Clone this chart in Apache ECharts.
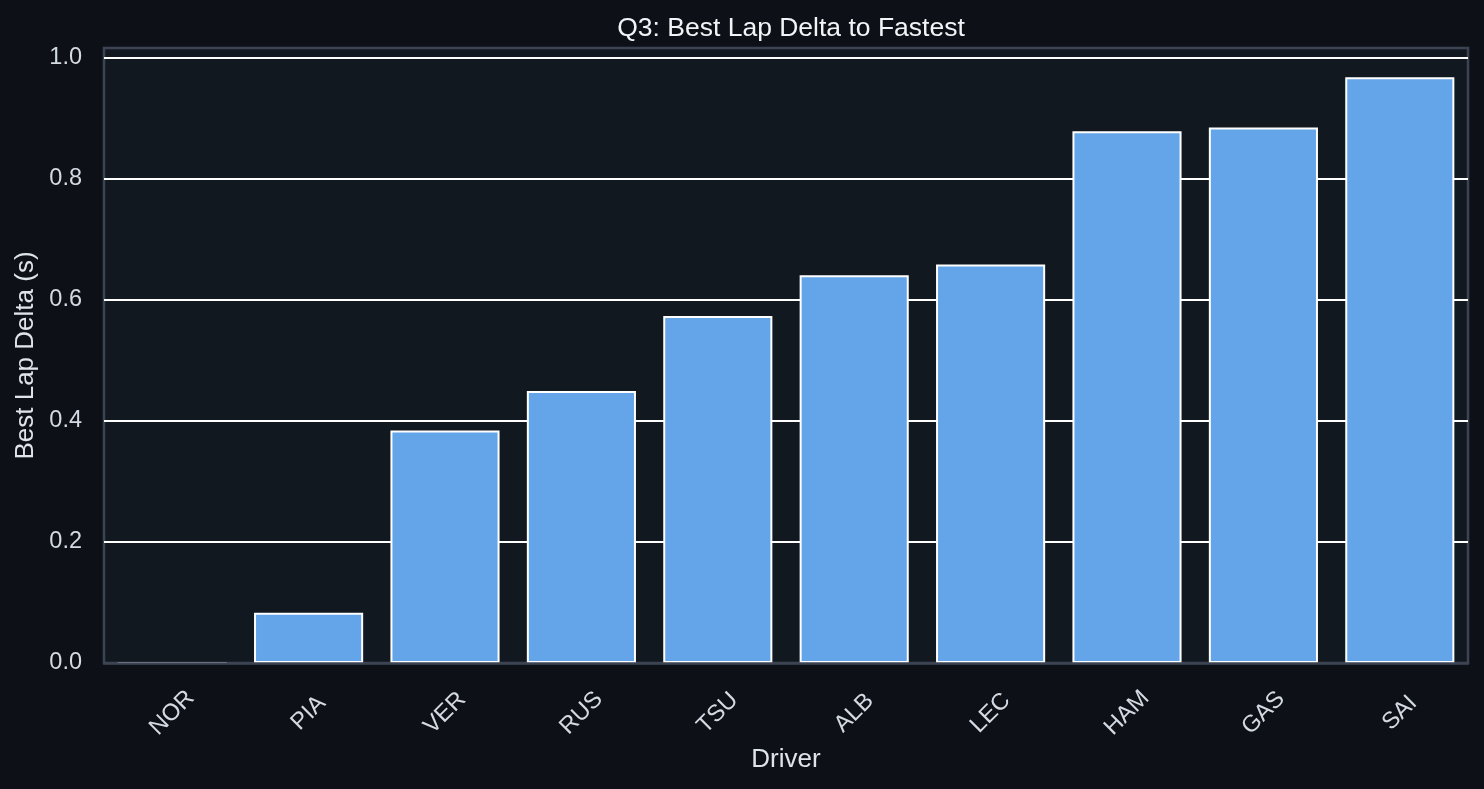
<!DOCTYPE html>
<html>
<head>
<meta charset="utf-8">
<script src="https://cdn.jsdelivr.net/npm/echarts@6/dist/echarts.min.js"></script>
<style>
  html, body { margin: 0; padding: 0; background: #0d1017; }
  #chart { width: 1484px; height: 789px; }
</style>
</head>
<body>
<div id="chart"></div>
<script>
const drivers = ['NOR', 'PIA', 'VER', 'RUS', 'TSU', 'ALB', 'LEC', 'HAM', 'GAS', 'SAI'];
const deltas = [0.0, 0.083, 0.384, 0.449, 0.573, 0.640, 0.658, 0.878, 0.884, 0.967];
const yTicks = [0.0, 0.2, 0.4, 0.6, 0.8, 1.0];

const yMax = Math.max(...deltas) * 1.05;
const chart = echarts.init(document.getElementById('chart'));
const font = 'Liberation Sans, Arial, sans-serif';
const frameColor = '#3c4453';

// split-line colours: hide the one at 0 (under the frame) and the one at the axis max
const splitColors = yTicks.map(t => (t === 0 ? 'rgba(0,0,0,0)' : '#ffffff')).concat(['rgba(0,0,0,0)']);

chart.setOption({
  backgroundColor: '#0d1017',
  animation: false,
  title: {
    text: 'Q3: Best Lap Delta to Fastest',
    left: 786,
    textAlign: 'center',
    top: 10,
    textStyle: { color: '#f2f4f7', fontSize: 26.5, fontWeight: 'normal', fontFamily: font }
  },
  grid: {
    left: 104, right: 16, top: 48, bottom: 126,
    show: true,
    backgroundColor: '#121820',
    borderColor: frameColor,
    borderWidth: 2.5
  },
  xAxis: {
    type: 'category',
    data: drivers,
    z: 5,
    name: 'Driver',
    nameLocation: 'middle',
    nameGap: 95,
    nameTextStyle: { color: '#dfe4ec', fontSize: 26, fontFamily: font, verticalAlign: 'middle' },
    axisLine: { show: true, lineStyle: { color: frameColor, width: 2.5 } },
    axisTick: { show: false },
    axisLabel: {
      rotate: 45,
      align: 'center',
      verticalAlign: 'middle',
      margin: 50,
      color: '#d4dae3',
      fontSize: 23.5,
      fontFamily: font
    },
    splitLine: { show: false }
  },
  yAxis: {
    type: 'value',
    min: 0,
    max: yMax,
    interval: 0.2,
    name: 'Best Lap Delta (s)',
    nameLocation: 'middle',
    nameGap: 77,
    nameTextStyle: { color: '#dfe4ec', fontSize: 26, fontFamily: font, verticalAlign: 'middle' },
    axisLine: { show: false },
    axisTick: { show: false },
    axisLabel: {
      margin: 22,
      color: '#d4dae3',
      fontSize: 23.5,
      fontFamily: font,
      showMaxLabel: false,
      formatter: function (v) {
        const t = yTicks.find(x => Math.abs(x - v) < 1e-6);
        return t === undefined ? '' : t.toFixed(1);
      }
    },
    splitLine: {
      show: true,
      lineStyle: { color: splitColors, width: 2 }
    }
  },
  series: [{
    type: 'bar',
    data: deltas,
    barCategoryGap: '20%',
    itemStyle: { color: '#64a4e9', borderColor: '#ffffff', borderWidth: 2 }
  }]
});
</script>
</body>
</html>
